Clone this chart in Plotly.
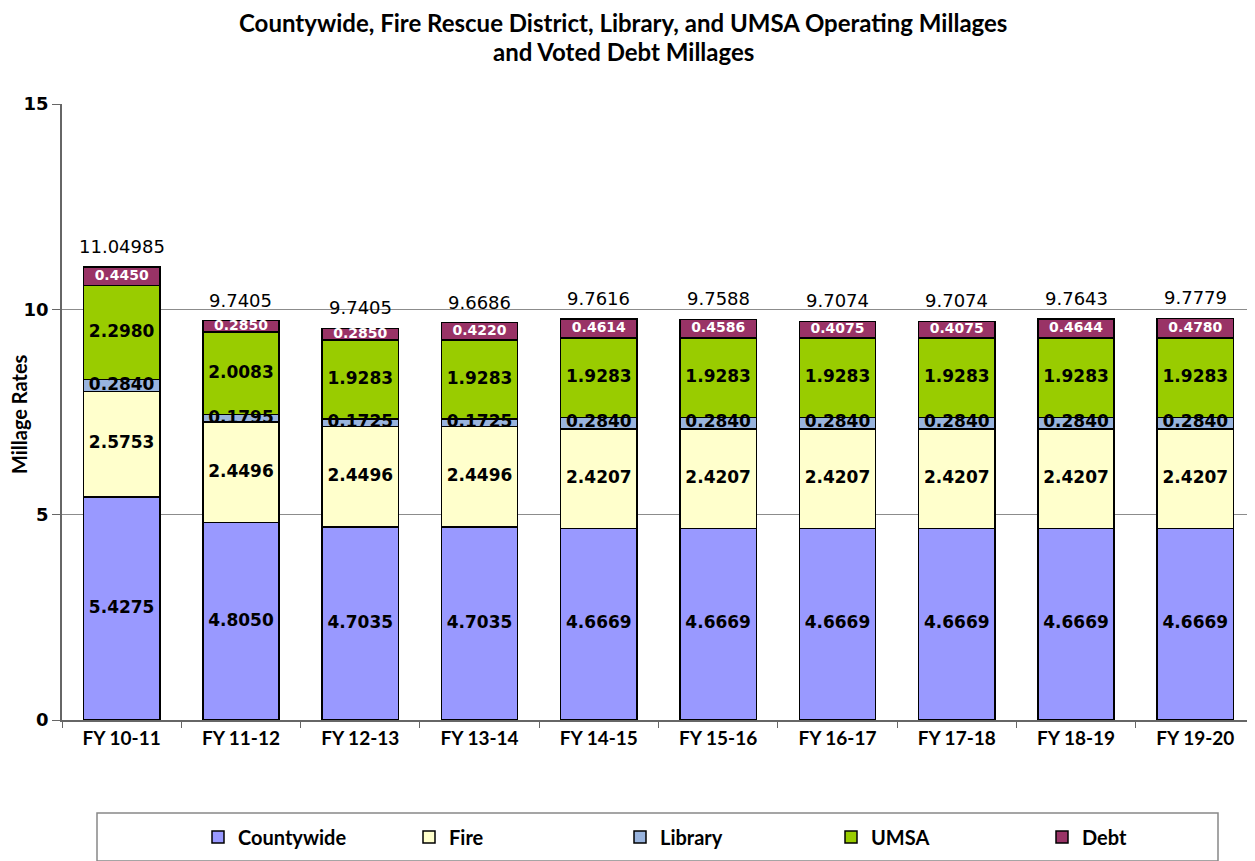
import plotly.graph_objects as go

categories = ["FY 10-11", "FY 11-12", "FY 12-13", "FY 13-14", "FY 14-15",
              "FY 15-16", "FY 16-17", "FY 17-18", "FY 18-19", "FY 19-20"]
countywide = [5.4275, 4.8050, 4.7035, 4.7035, 4.6669, 4.6669, 4.6669, 4.6669, 4.6669, 4.6669]
fire = [2.5753, 2.4496, 2.4496, 2.4496, 2.4207, 2.4207, 2.4207, 2.4207, 2.4207, 2.4207]
library = [0.2840, 0.1795, 0.1725, 0.1725, 0.2840, 0.2840, 0.2840, 0.2840, 0.2840, 0.2840]
umsa = [2.2980, 2.0083, 1.9283, 1.9283, 1.9283, 1.9283, 1.9283, 1.9283, 1.9283, 1.9283]
debt = [0.4450, 0.2850, 0.2850, 0.4220, 0.4614, 0.4586, 0.4075, 0.4075, 0.4644, 0.4780]
total_labels = ["11.04985", "9.7405", "9.7405", "9.6686", "9.7616",
                "9.7588", "9.7074", "9.7074", "9.7643", "9.7779"]
y_ticks = [0, 5, 10, 15]

series = [
    ("Countywide", countywide, "#9999FF", "black", 17),
    ("Fire", fire, "#FFFFCC", "black", 17),
    ("Library", library, "#99B4DE", "black", 17),
    ("UMSA", umsa, "#99CC00", "black", 17),
    ("Debt", debt, "#993366", "white", 14),
]

OFF = 8  # default page body margin
W, H = 1255 - OFF, 861 - OFF
L, T = 62 - OFF, 104 - OFF
PLOT_BOTTOM = 720 - OFF
R, B = 0, H - PLOT_BOTTOM
PW, PH = W - L - R, H - T - B


def px(x):
    return (x - OFF - L) / PW


def py(y):
    return (PLOT_BOTTOM - (y - OFF)) / PH


fig = go.Figure()
base = [0.0] * len(categories)
for name, vals, color, tcolor, tsize in series:
    fig.add_trace(go.Bar(
        x=categories, y=vals, name=f"<b>{name}</b>",
        marker=dict(color=color, line=dict(color="black", width=1.5)),
        hoverinfo="skip",
    ))
    fig.add_trace(go.Scatter(
        x=categories, y=[b + v / 2 for b, v in zip(base, vals)],
        text=[f"<b>{v:.4f}</b>" for v in vals], mode="text",
        textfont=dict(family="DejaVu Sans", size=tsize, color=tcolor),
        textposition="middle center", showlegend=False, hoverinfo="skip",
    ))
    base = [b + v for b, v in zip(base, vals)]

for i, c in enumerate(categories):
    fig.add_annotation(x=c, y=base[i], text=total_labels[i], showarrow=False,
                       yanchor="bottom", yshift=8,
                       font=dict(family="DejaVu Sans", size=18, color="black"))

# title lines
for txt, ypix in [("Countywide, Fire Rescue District, Library, and UMSA Operating Millages", 23),
                  ("and Voted Debt Millages", 52)]:
    fig.add_annotation(xref="paper", yref="paper", x=px(623), y=py(ypix),
                       text=f"<b>{txt}</b>", showarrow=False, xanchor="center", yanchor="middle",
                       font=dict(family="Lato", size=24, color="black"))

# y axis title
fig.add_annotation(xref="paper", yref="paper", x=px(19), y=py(414),
                   text="<b>Millage Rates</b>", showarrow=False, textangle=-90,
                   xanchor="center", yanchor="middle",
                   font=dict(family="Lato", size=20, color="black"))

# legend frame
fig.add_shape(type="rect", xref="paper", yref="paper",
              x0=px(97), x1=px(1218), y0=py(861), y1=py(813),
              line=dict(color="#888888", width=1.5), fillcolor="white", layer="below")

fig.update_layout(
    width=W, height=H,
    margin=dict(l=L, r=R, t=T, b=B, autoexpand=False),
    paper_bgcolor="white", plot_bgcolor="white",
    barmode="stack", bargap=0.36,
    showlegend=True,
    legend=dict(orientation="h", x=px(198), xanchor="left",
                y=py(837), yanchor="middle",
                font=dict(family="Lato", size=20, color="black"),
                entrywidth=166, itemwidth=30, traceorder="normal",
                bgcolor="rgba(0,0,0,0)"),
    font=dict(family="Lato", color="black"),
)
fig.update_xaxes(showline=True, linecolor="#666666", linewidth=1.5, automargin=False,
                 ticks="outside", tickson="boundaries", ticklen=6, tickcolor="#666666",
                 tickfont=dict(family="Lato", size=19, color="black"),
                 tickprefix="<b>", ticksuffix="</b>")
fig.update_yaxes(range=[0, 15], tickvals=y_ticks, ticktext=[f"<b>{t}</b>" for t in y_ticks],
                 showgrid=True, automargin=False,
                 gridcolor="#8c8c8c", gridwidth=1.2, zeroline=False,
                 showline=True, linecolor="#666666", linewidth=1.5,
                 ticks="outside", ticklen=8, tickcolor="#666666",
                 tickfont=dict(family="DejaVu Sans", size=18, color="black"))

fig.write_html("out.html")
